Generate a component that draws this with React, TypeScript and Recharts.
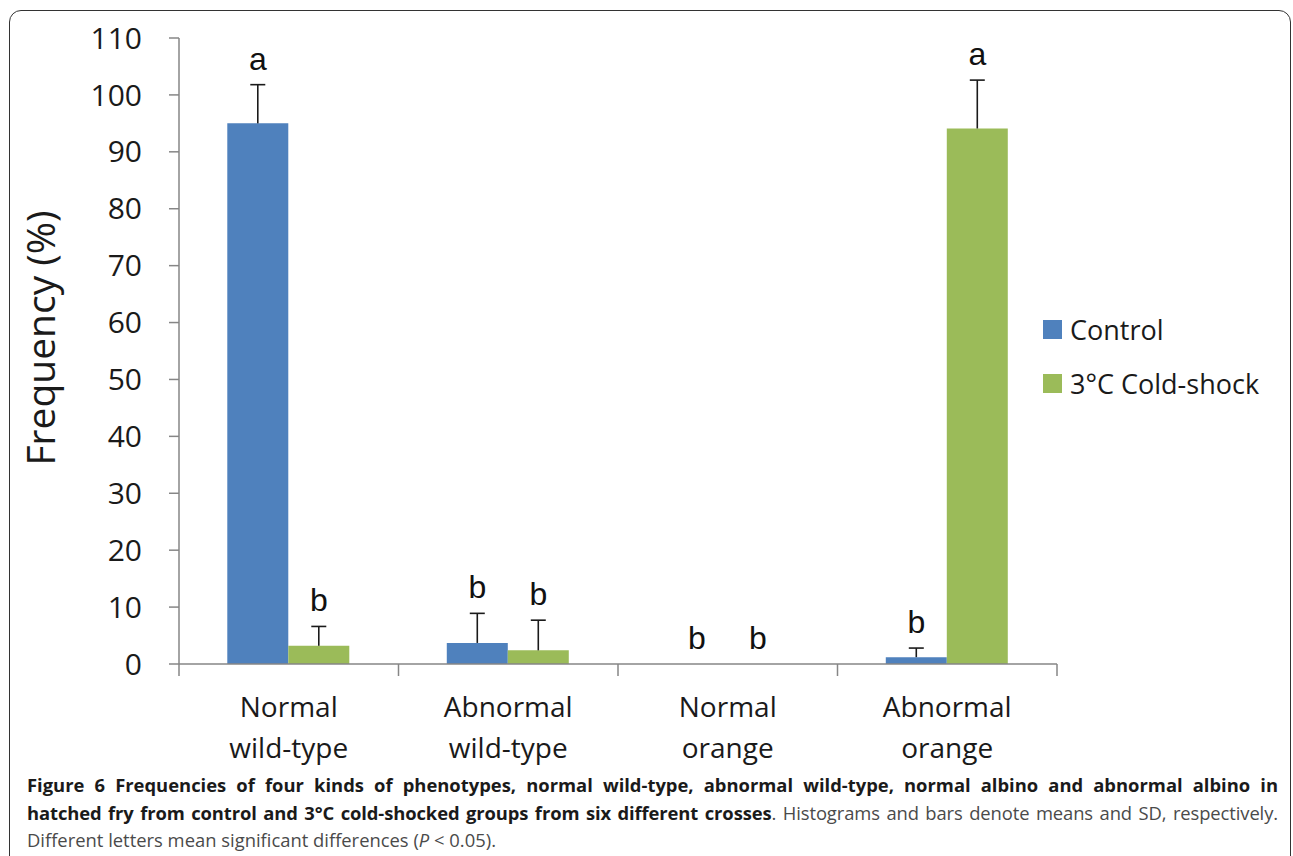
import React from 'react';
import { BarChart, Bar, XAxis, YAxis, Legend, LabelList } from 'recharts';

const categories = ['Normal wild-type', 'Abnormal wild-type', 'Normal orange', 'Abnormal orange'];
const controlMean = [95.0, 3.7, 0, 1.2];
const controlSd = [6.8, 5.2, 0, 1.6];
const coldMean = [3.2, 2.4, 0, 94.1];
const coldSd = [3.4, 5.3, 0, 8.5];
const controlLetters = ['a', 'b', 'b', 'b'];
const coldLetters = ['b', 'b', 'b', 'a'];
const yTicks = [0, 10, 20, 30, 40, 50, 60, 70, 80, 90, 100, 110];
const seriesNames = ['Control', '3°C Cold-shock'];

const BLUE = '#4F81BD';
const GREEN = '#9BBB59';
const AXIS = '#868686';

const data = categories.map((category, i) => ({
  category,
  controlMean: controlMean[i],
  controlSd: controlSd[i],
  coldMean: coldMean[i],
  coldSd: coldSd[i],
  controlLetter: controlLetters[i],
  coldLetter: coldLetters[i],
}));

// one-sided SD whisker, drawn as the stacked segment on top of the mean bar
function ErrorShape(props: any) {
  const { x, y, width, height } = props;
  if (!height || height <= 0) return <g />;
  const cx = x + width / 2;
  return (
    <g stroke="#1a1a1a" strokeWidth={1.6}>
      <line x1={cx} x2={cx} y1={y} y2={y + height} />
      <line x1={cx - 7.5} x2={cx + 7.5} y1={y} y2={y} />
    </g>
  );
}

function CategoryTick(props: any) {
  const { x, y, payload, index, visibleTicksCount } = props;
  const half = payload.offset || 0;
  const words = String(payload.value).split(' ');
  const isLast = index === visibleTicksCount - 1;
  return (
    <g>
      <line x1={x - half} x2={x - half} y1={y} y2={y + 12} stroke={AXIS} strokeWidth={1.5} />
      {isLast && <line x1={x + half} x2={x + half} y1={y} y2={y + 12} stroke={AXIS} strokeWidth={1.5} />}
      <text x={x} y={y + 53} textAnchor="middle" fontFamily="'Open Sans'" fontSize={28} fill="#1a1a1a">
        {words[0]}
      </text>
      <text x={x} y={y + 94} textAnchor="middle" fontFamily="'Open Sans'" fontSize={28} fill="#1a1a1a">
        {words.slice(1).join(' ')}
      </text>
    </g>
  );
}

function LegendBox({ payload }: any) {
  const items = (payload || [])
    .filter((p: any) => seriesNames.includes(p.value))
    .sort((a: any, b: any) => seriesNames.indexOf(a.value) - seriesNames.indexOf(b.value));
  return (
    <div>
      {items.map((p: any) => (
        <div key={p.value} style={{ display: 'flex', alignItems: 'center', height: 54 }}>
          <div style={{ width: 19, height: 19, background: p.color, marginRight: 8 }} />
          <span style={{ fontFamily: "'Open Sans'", fontSize: 27, color: '#1a1a1a' }}>{p.value}</span>
        </div>
      ))}
    </div>
  );
}

const letterStyle = { fontFamily: "'Liberation Sans', Arial", fontSize: 32, fill: '#111' };

export default function App() {
  return (
    <div style={{ position: 'absolute', left: 0, top: 0, width: 1293, height: 856, overflow: 'hidden', background: '#fff', fontFamily: "'Open Sans'" }}>
      <div style={{ position: 'absolute', left: 9, top: 10, width: 1280, height: 900, border: '1.5px solid #333', borderRadius: 12 }} />
      <div style={{ position: 'absolute', left: 0, top: 0 }}>
        <BarChart
          width={1293}
          height={780}
          data={data}
          margin={{ top: 38, right: 236, left: 0, bottom: 16 }}
          barCategoryGap="22%"
          barGap={0}
        >
          <XAxis
            dataKey="category"
            interval={0}
            height={100}
            axisLine={{ stroke: AXIS, strokeWidth: 1.5 }}
            tickLine={false}
            tickSize={0}
            tickMargin={0}
            tick={<CategoryTick />}
          />
          <YAxis
            width={179}
            domain={[0, 110]}
            ticks={yTicks}
            interval={0}
            allowDataOverflow
            axisLine={{ stroke: AXIS, strokeWidth: 1.5 }}
            tickLine={{ stroke: AXIS, strokeWidth: 1.5 }}
            tickSize={10}
            tickMargin={27}
            tick={{ fontFamily: "'Open Sans'", fontSize: 30, fill: '#1a1a1a' }}
            label={{
              content: (p: any) => {
                const vb = p.viewBox || { x: 0, y: 38, height: 626 };
                const cx = vb.x + 55;
                const cy = vb.y + vb.height / 2 - 13;
                return (
                  <text
                    x={cx}
                    y={cy}
                    transform={`rotate(-90, ${cx}, ${cy})`}
                    textAnchor="middle"
                    fontFamily="'Open Sans'"
                    fontSize={39}
                    fill="#1a1a1a"
                  >
                    Frequency (%)
                  </text>
                );
              },
            }}
          />
          <Legend
            layout="vertical"
            align="center"
            verticalAlign="middle"
            content={<LegendBox />}
            wrapperStyle={{ left: 1043, top: 302, width: 250 }}
          />
          <Bar dataKey="controlMean" name={seriesNames[0]} stackId="c" fill={BLUE} isAnimationActive={false} />
          <Bar dataKey="controlSd" stackId="c" fill="none" legendType="none" shape={<ErrorShape />} isAnimationActive={false}>
            <LabelList dataKey="controlLetter" position="top" offset={15} style={letterStyle} />
          </Bar>
          <Bar dataKey="coldMean" name={seriesNames[1]} stackId="g" fill={GREEN} isAnimationActive={false} />
          <Bar dataKey="coldSd" stackId="g" fill="none" legendType="none" shape={<ErrorShape />} isAnimationActive={false}>
            <LabelList dataKey="coldLetter" position="top" offset={15} style={letterStyle} />
          </Bar>
        </BarChart>
      </div>
      <div style={{ position: 'absolute', left: 27, top: 771, width: 1251, fontSize: 18.4, lineHeight: '27.5px', color: '#4a4a4a' }}>
        <div style={{ textAlign: 'justify', textAlignLast: 'justify', whiteSpace: 'nowrap', fontWeight: 700, color: '#1a1a1a' }}>
          Figure 6 Frequencies of four kinds of phenotypes, normal wild-type, abnormal wild-type, normal albino and abnormal albino in
        </div>
        <div style={{ textAlign: 'justify', textAlignLast: 'justify', whiteSpace: 'nowrap', letterSpacing: -0.1 }}>
          <b style={{ color: '#1a1a1a' }}>hatched fry from control and 3°C cold-shocked groups from six different crosses</b>. Histograms and bars denote means and SD, respectively.
        </div>
        <div>
          Different letters mean significant differences (<i>P</i> &lt; 0.05).
        </div>
      </div>
    </div>
  );
}
